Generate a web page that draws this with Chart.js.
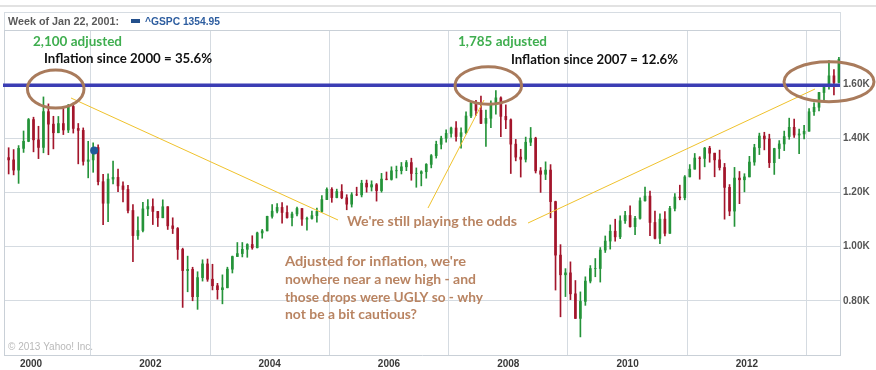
<!DOCTYPE html>
<html><head><meta charset="utf-8">
<script src="https://cdn.jsdelivr.net/npm/chart.js@4/dist/chart.umd.min.js"></script>
<style>html,body{margin:0;padding:0;background:#fff;}canvas{display:block;}</style>
</head><body>
<canvas id="c" width="876" height="370"></canvas>
<script>
// ---- DATA (S&P 500, monthly candles, Jul 1999 - Jul 2013) ----
const firstYear = 1999, firstMonth = 7;
const opens = [
1372.7,1328.7,1320.4,1282.7,1362.9,1388.9,
1469.3,1394.5,1366.4,1498.6,1452.4,1420.6,1454.6,1430.8,1517.7,1436.5,1429.4,1315.0,
1320.3,1366.0,1239.9,1160.3,1249.5,1255.8,1224.4,1211.2,1133.6,1040.9,1059.8,1139.5,
1148.1,1130.2,1106.7,1147.4,1076.9,1067.1,989.8,911.6,916.1,815.3,885.8,936.3,
879.8,855.7,841.2,848.2,916.9,963.6,974.5,990.3,1008.0,996.0,1050.7,1058.2,
1111.9,1131.1,1144.9,1126.2,1107.3,1120.7,1140.8,1101.7,1104.2,1114.6,1130.2,1173.8,
1211.9,1181.3,1203.6,1180.6,1156.9,1191.5,1191.3,1234.2,1220.3,1228.8,1207.0,1249.5,
1248.3,1280.1,1280.7,1294.8,1310.6,1270.1,1270.2,1276.7,1303.8,1335.9,1377.9,1400.6,
1418.3,1438.2,1406.8,1420.9,1482.4,1530.6,1503.4,1455.3,1474.0,1526.8,1549.4,1481.1,
1468.4,1378.6,1330.6,1322.7,1385.6,1400.4,1280.0,1267.4,1282.8,1166.4,968.8,896.2,
903.3,825.9,735.1,797.9,872.8,919.1,919.3,987.5,1020.6,1057.1,1036.2,1095.6,
1115.1,1073.9,1104.5,1169.4,1186.7,1089.4,1030.7,1101.6,1049.3,1141.2,1183.3,1180.6,
1257.6,1286.1,1327.2,1325.8,1363.6,1345.2,1320.6,1292.3,1218.9,1131.4,1253.3,1247.0,
1257.6,1312.4,1365.7,1408.5,1397.9,1310.3,1362.2,1379.3,1406.6,1440.7,1412.2,1416.2,
1426.2,1498.1,1514.7,1569.2,1597.6,1630.7,1606.3];
const highs = [
1420.3,1365.3,1358.6,1373.2,1427.2,1473.4,
1478.0,1444.6,1552.9,1527.2,1481.5,1480.8,1517.3,1525.2,1530.1,1454.8,1438.5,1389.1,
1383.4,1376.4,1267.4,1269.3,1315.9,1286.6,1239.8,1226.3,1155.4,1110.6,1163.4,1173.6,
1176.6,1130.2,1173.0,1147.8,1106.6,1070.7,994.5,965.0,924.0,907.4,951.6,954.3,
935.1,864.6,895.9,924.2,965.4,1015.3,1015.4,1011.0,1040.3,1053.8,1063.7,1112.6,
1155.4,1159.0,1163.2,1150.6,1127.7,1146.3,1140.8,1109.7,1131.5,1142.1,1188.5,1217.3,
1217.8,1212.4,1229.1,1191.9,1199.6,1219.6,1245.2,1245.9,1243.1,1233.3,1270.6,1275.8,
1294.9,1297.6,1310.9,1318.2,1326.7,1290.7,1280.4,1306.7,1340.3,1389.5,1407.9,1431.8,
1441.6,1461.6,1438.9,1498.0,1535.6,1540.6,1555.9,1503.9,1538.7,1576.1,1552.8,1523.6,
1471.8,1396.0,1359.7,1404.6,1440.2,1404.1,1292.2,1313.2,1303.0,1168.0,1007.5,918.9,
943.9,875.0,833.0,888.7,930.2,956.2,996.7,1039.5,1080.2,1101.4,1113.7,1130.4,
1150.5,1112.4,1180.2,1219.8,1205.1,1131.2,1121.0,1129.2,1148.9,1196.1,1227.1,1262.6,
1303.0,1344.1,1332.3,1366.6,1370.6,1345.2,1356.5,1307.4,1229.3,1292.7,1277.6,1269.4,
1333.5,1378.0,1419.2,1422.4,1415.3,1363.5,1391.7,1426.7,1474.5,1471.0,1434.3,1448.0,
1509.9,1530.9,1570.3,1597.6,1687.2,1654.2,1698.8];
const lows = [
1324.0,1268.4,1265.0,1233.7,1348.0,1387.4,
1350.1,1325.1,1346.6,1339.4,1361.1,1420.6,1413.9,1421.2,1419.4,1305.8,1301.0,1254.1,
1274.6,1228.3,1081.2,1091.9,1232.0,1203.0,1165.5,1124.9,944.8,1026.8,1054.3,1114.5,
1081.7,1074.4,1106.7,1063.5,1048.4,952.9,775.7,833.4,800.2,768.6,872.9,872.0,
840.3,806.3,788.9,847.9,902.8,963.6,962.1,960.8,990.4,995.3,1031.2,1058.2,
1105.1,1124.4,1087.2,1105.1,1076.3,1113.3,1078.8,1060.7,1101.3,1090.2,1127.6,1173.8,
1163.8,1180.1,1176.9,1136.2,1146.2,1188.3,1183.6,1201.1,1205.4,1168.2,1201.1,1246.6,
1245.7,1253.6,1268.4,1280.7,1245.3,1219.3,1224.5,1252.9,1290.9,1327.1,1360.9,1385.9,
1404.0,1389.1,1364.0,1416.4,1476.7,1484.2,1454.3,1370.6,1439.3,1489.6,1406.1,1435.7,
1270.1,1316.8,1257.0,1312.6,1373.1,1272.0,1200.4,1247.5,1106.4,839.8,741.0,815.7,
804.5,734.5,666.8,783.3,866.1,888.9,869.3,978.5,991.0,1020.2,1029.4,1085.9,
1071.6,1044.5,1101.4,1167.8,1040.8,1028.3,1010.9,1039.7,1049.3,1131.9,1173.0,1173.0,
1257.6,1286.1,1249.1,1294.7,1311.8,1258.1,1282.9,1101.5,1114.2,1074.8,1158.7,1202.4,
1257.6,1300.5,1340.0,1357.4,1292.0,1266.7,1325.4,1354.7,1396.6,1403.3,1343.4,1398.1,
1426.2,1485.0,1501.5,1536.0,1581.3,1560.3,1604.6];
const closes = [
1328.7,1320.4,1282.7,1362.9,1388.9,1469.3,
1394.5,1366.4,1498.6,1452.4,1420.6,1454.6,1430.8,1517.7,1436.5,1429.4,1315.0,1320.3,
1366.0,1239.9,1160.3,1249.5,1255.8,1224.4,1211.2,1133.6,1040.9,1059.8,1139.5,1148.1,
1130.2,1106.7,1147.4,1076.9,1067.1,989.8,911.6,916.1,815.3,885.8,936.3,879.8,
855.7,841.2,848.2,916.9,963.6,974.5,990.3,1008.0,996.0,1050.7,1058.2,1111.9,
1131.1,1144.9,1126.2,1107.3,1120.7,1140.8,1101.7,1104.2,1114.6,1130.2,1173.8,1211.9,
1181.3,1203.6,1180.6,1156.9,1191.5,1191.3,1234.2,1220.3,1228.8,1207.0,1249.5,1248.3,
1280.1,1280.7,1294.8,1310.6,1270.1,1270.2,1276.7,1303.8,1335.9,1377.9,1400.6,1418.3,
1438.2,1406.8,1420.9,1482.4,1530.6,1503.4,1455.3,1474.0,1526.8,1549.4,1481.1,1468.4,
1378.6,1330.6,1322.7,1385.6,1400.4,1280.0,1267.4,1282.8,1166.4,968.8,896.2,903.3,
825.9,735.1,797.9,872.8,919.1,919.3,987.5,1020.6,1057.1,1036.2,1095.6,1115.1,
1073.9,1104.5,1169.4,1186.7,1089.4,1030.7,1101.6,1049.3,1141.2,1183.3,1180.6,1257.6,
1286.1,1327.2,1325.8,1363.6,1345.2,1320.6,1292.3,1218.9,1131.4,1253.3,1247.0,1257.6,
1312.4,1365.7,1408.5,1397.9,1310.3,1362.2,1379.3,1406.6,1440.7,1412.2,1416.2,1426.2,
1498.1,1514.7,1569.2,1597.6,1630.7,1606.3,1692.0];
const yearTicks = [2000, 2002, 2004, 2006, 2008, 2010, 2012];
const priceTicks = [800, 1000, 1200, 1400, 1600];
const hoverWeek = 2001.058, hoverValue = 1354.95;      // Week of Jan 22, 2001
const headerLabel = 'Week of Jan 22, 2001:';
const seriesLabel = '^GSPC 1354.95';
const resistanceLevel = 1596;

// ---- build datasets ----
const xs = opens.map((_, i) => firstYear + (firstMonth - 1 + i + 0.5) / 12);
const UP = '#249339', DOWN = '#a3152b';
const colr = opens.map((o, i) => closes[i] >= o ? UP : DOWN);
const wicks = xs.map((x, i) => ({x, y: [lows[i], highs[i]]}));
const bodies = xs.map((x, i) => ({x, y: [opens[i], closes[i]]}));

function drawFit(ctx, text, x, base, width, font, color) {
  ctx.save();
  ctx.font = font;
  const w = ctx.measureText(text).width;
  ctx.translate(x, base);
  ctx.scale(width / w, 1);
  ctx.fillStyle = color;
  ctx.textBaseline = 'alphabetic';
  ctx.textAlign = 'left';
  ctx.fillText(text, 0, 0);
  ctx.restore();
}

const decor = {
  id: 'decor',
  beforeDraw(chart) {
    const ctx = chart.ctx;
    ctx.save();
    ctx.fillStyle = '#fff';
    ctx.fillRect(0, 0, chart.width, chart.height);
    ctx.restore();
  },
  afterDraw(chart) {
    const ctx = chart.ctx, ca = chart.chartArea;
    const ys = chart.scales.y;
    ctx.save();
    // frame
    ctx.strokeStyle = '#d9d9d9'; ctx.lineWidth = 1.5;
    ctx.beginPath(); ctx.moveTo(0, 6); ctx.lineTo(876, 6); ctx.stroke();
    ctx.strokeStyle = '#d6dce2'; ctx.lineWidth = 1;
    ctx.strokeRect(ca.left + 0.5, 12.5, ca.right - ca.left, ca.top - 12);
    ctx.strokeStyle = '#c9d0d7';
    ctx.beginPath(); ctx.moveTo(ca.left + 0.5, ca.top); ctx.lineTo(ca.left + 0.5, ca.bottom); ctx.stroke();
    ctx.beginPath(); ctx.moveTo(ca.left, ca.top + 0.5); ctx.lineTo(ca.right, ca.top + 0.5); ctx.stroke();
    // header
    drawFit(ctx, headerLabel, 8, 25, 111, 'bold 10.5px "Liberation Sans"', '#5a5a5a');
    ctx.fillStyle = '#24508c'; ctx.fillRect(131, 19, 9, 4);
    drawFit(ctx, seriesLabel, 145, 25, 75, 'bold 10.5px "Liberation Sans"', '#2d5d9f');
    // copyright
    ctx.font = '10px "Liberation Sans"'; ctx.fillStyle = '#b9b9b9';
    ctx.fillText('\u00a9 2013 Yahoo! Inc.', 8, 350);
    // resistance line
    const yb = ys.getPixelForValue(resistanceLevel);
    ctx.strokeStyle = '#3b3db4'; ctx.lineWidth = 3.5;
    ctx.beginPath(); ctx.moveTo(ca.left - 1, yb); ctx.lineTo(ca.right, yb); ctx.stroke();
    // yellow pointer lines
    ctx.strokeStyle = '#f0c22c'; ctx.lineWidth = 1;
    [[71, 98, 338, 220], [428, 208, 484, 100], [528, 223, 815, 89]].forEach(l => {
      ctx.beginPath(); ctx.moveTo(l[0], l[1]); ctx.lineTo(l[2], l[3]); ctx.stroke();
    });
    // ellipses
    ctx.strokeStyle = '#a97b5c'; ctx.lineWidth = 3;
    [[55.7, 89, 28.3, 19], [488.3, 85.5, 33.3, 18.8], [829, 81.7, 45, 20]].forEach(e => {
      ctx.beginPath(); ctx.ellipse(e[0], e[1], e[2], e[3], 0, 0, Math.PI * 2); ctx.stroke();
    });
    // annotation texts
    const F = 'bold 14px Lato', FP = 'bold 13.5px Lato';
    const GREEN = '#3fae4f', BROWN = '#b98462', BLACK = '#111';
    drawFit(ctx, '2,100 adjusted', 33, 46, 89, F, GREEN);
    drawFit(ctx, 'Inflation since 2000 = 35.6%', 44, 63, 168, F, BLACK);
    drawFit(ctx, '1,785 adjusted', 458, 46, 89, F, GREEN);
    drawFit(ctx, 'Inflation since 2007 = 12.6%', 511, 64, 167, F, BLACK);
    drawFit(ctx, "We're still playing the odds", 347, 226, 170, F, BROWN);
    drawFit(ctx, "Adjusted for inflation, we're", 285, 266, 181, FP, BROWN);
    drawFit(ctx, 'nowhere near a new high - and', 285, 283.5, 191, FP, BROWN);
    drawFit(ctx, 'those drops were UGLY so - why', 285, 302, 198, FP, BROWN);
    drawFit(ctx, 'not be a bit cautious?', 285, 319, 132, FP, BROWN);
    ctx.restore();
  }
};

new Chart(document.getElementById('c'), {
  type: 'bar',
  data: {
    datasets: [
      {type: 'scatter', data: [{x: hoverWeek, y: hoverValue}], pointRadius: 4,
       pointBackgroundColor: '#1f5a9a', pointBorderWidth: 0, order: 0},
      {data: bodies, backgroundColor: colr, barThickness: 2, grouped: false, order: 1},
      {data: wicks, backgroundColor: colr, barThickness: 1, grouped: false, order: 2}
    ]
  },
  options: {
    responsive: false, animation: false, devicePixelRatio: 1,
    layout: {padding: {left: 4, top: 30, right: 0, bottom: 0}},
    plugins: {legend: {display: false}, tooltip: {enabled: false}},
    scales: {
      x: {
        type: 'linear', min: 1999.547, max: 2013.56, offset: false,
        afterFit: s => { s.height = 15; },
        afterBuildTicks: s => { s.ticks = yearTicks.map(v => ({value: v})); },
        grid: {color: '#d5dbe1', drawTicks: false},
        border: {display: true, color: '#c9d0d7'},
        ticks: {padding: 3, autoSkip: false, maxRotation: 0, color: '#3a3a3a',
                font: {family: 'Liberation Sans', size: 10, weight: 'bold'},
                callback: v => String(v)}
      },
      y: {
        position: 'right', min: 600, max: 1800,
        afterFit: s => { s.width = 36; },
        afterBuildTicks: s => { s.ticks = priceTicks.map(v => ({value: v})); },
        grid: {color: '#d5dbe1', drawTicks: false},
        border: {display: true, color: '#c9d0d7'},
        ticks: {padding: 3, color: '#555', font: {family: 'Liberation Sans', size: 10, weight: 'bold'},
                callback: v => (v / 1000).toFixed(2) + 'K'}
      }
    }
  },
  plugins: [decor]
});
</script>
</body></html>
